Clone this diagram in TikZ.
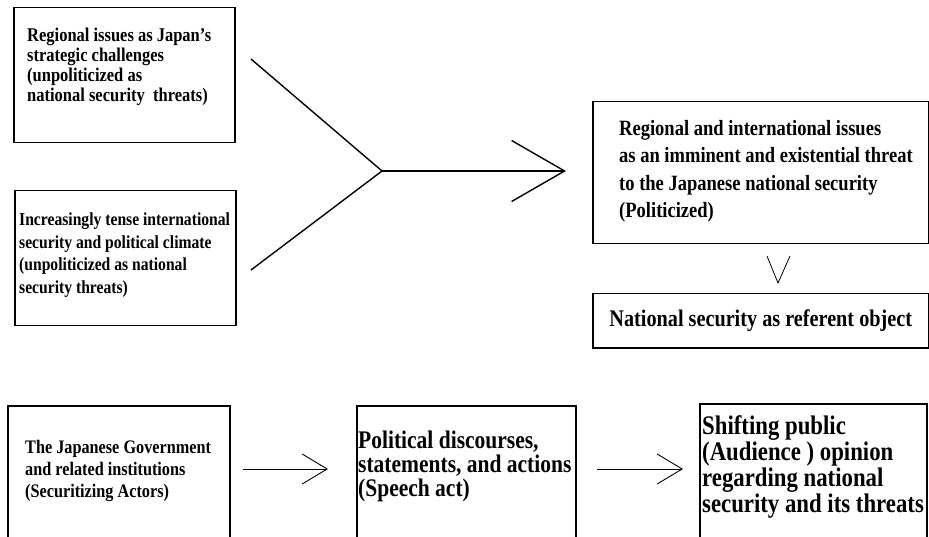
\documentclass[tikz,border=0pt]{standalone}
\usepackage{fontspec}
\setmainfont{Liberation Serif}[FakeStretch=0.85]
\usetikzlibrary{arrows.meta,calc,positioning}
\tikzstyle{box} = [draw=black, line width=1.5pt, inner sep=0pt, anchor=north west]
\tikzstyle{txt} = [inner sep=0pt, anchor=north west, align=left]
\tikzstyle{fork} = [line width=1.4pt]
\tikzstyle{bigarrow} = [line width=1.4pt,-{Straight Barb[length=53pt,width=61pt,line width=1.4pt]}]
\tikzstyle{arrow} = [line width=0.9pt,-{Straight Barb[length=25pt,width=30pt,line width=0.9pt]}]
\newcommand{\fs}[2]{\fontsize{#1}{#2}\selectfont\bfseries}

\begin{document}
\begin{tikzpicture}[x=1pt,y=-1pt]
            \useasboundingbox (0,0) rectangle (929,537);
            \clip (0,0) rectangle (929,537);
            % left column: the two unpoliticized issues
            \node[box,minimum width=221pt,minimum height=135pt] (b1) at (13,7) {};
            \node[txt,font=\fs{19.4}{20}] (t1) at (27,28)
                {Regional issues as Japan’s\\strategic challenges\\(unpoliticized as\\national security\ \ threats)};
            \node[box,minimum width=221pt,minimum height=135pt] (b2) at (14,190) {};
            \node[txt,font=\fs{18.4}{22.5}] (t2) at (19,213)
                {Increasingly tense international\\security and political climate\\(unpoliticized as national\\security threats)};
            % fork joining both issues
            \coordinate (f1) at (251,59);
            \coordinate (f2) at (251,270);
            \coordinate (fj) at (382,171);
            \coordinate (ft) at (566,171);
            \draw[fork] (f1) -- (fj) -- (f2);
            \draw[bigarrow] (fj) -- (ft);
            % right column: politicized threat and referent object
            \node[box,minimum width=336pt,minimum height=142pt] (b3) at (592,101) {};
            \node[txt,font=\fs{21.8}{27.5}] (t3) at (619,120)
                {Regional and international issues\\as an imminent and existential threat\\to the Japanese national security\\(Politicized)};
            \draw[line width=0.8pt] (767,256) -- (778,283) -- (790,256);
            \node[box,minimum width=336pt,minimum height=54pt,font=\fs{23.8}{26}] (b4) at (592,293)
                {National security as referent object};
            % bottom row: actors, speech act, audience
            \node[box,minimum width=222pt,minimum height=160pt] (b5) at (7,405) {};
            \node[txt,font=\fs{19.1}{22}] (t5) at (25,440)
                {The Japanese Government\\and related institutions\\(Securitizing Actors)};
            \node[box,minimum width=219pt,minimum height=160pt] (b6) at (356,405) {};
            \node[txt,font=\fs{25.3}{24}] (t6) at (358,431)
                {Political discourses,\\statements, and actions\\(Speech act)};
            \node[box,minimum width=227pt,minimum height=160pt] (b7) at (699,403) {};
            \node[txt,font=\fs{26.8}{26}] (t7) at (702,415)
                {Shifting public\\(Audience ) opinion\\regarding national\\security and its threats};
            \coordinate (a1) at (243,469);
            \coordinate (a2) at (328,469);
            \coordinate (a3) at (597,469);
            \coordinate (a4) at (683,469);
            \draw[arrow] (a1) -- (a2);
            \draw[arrow] (a3) -- (a4);
        \end{tikzpicture}
\end{document}
